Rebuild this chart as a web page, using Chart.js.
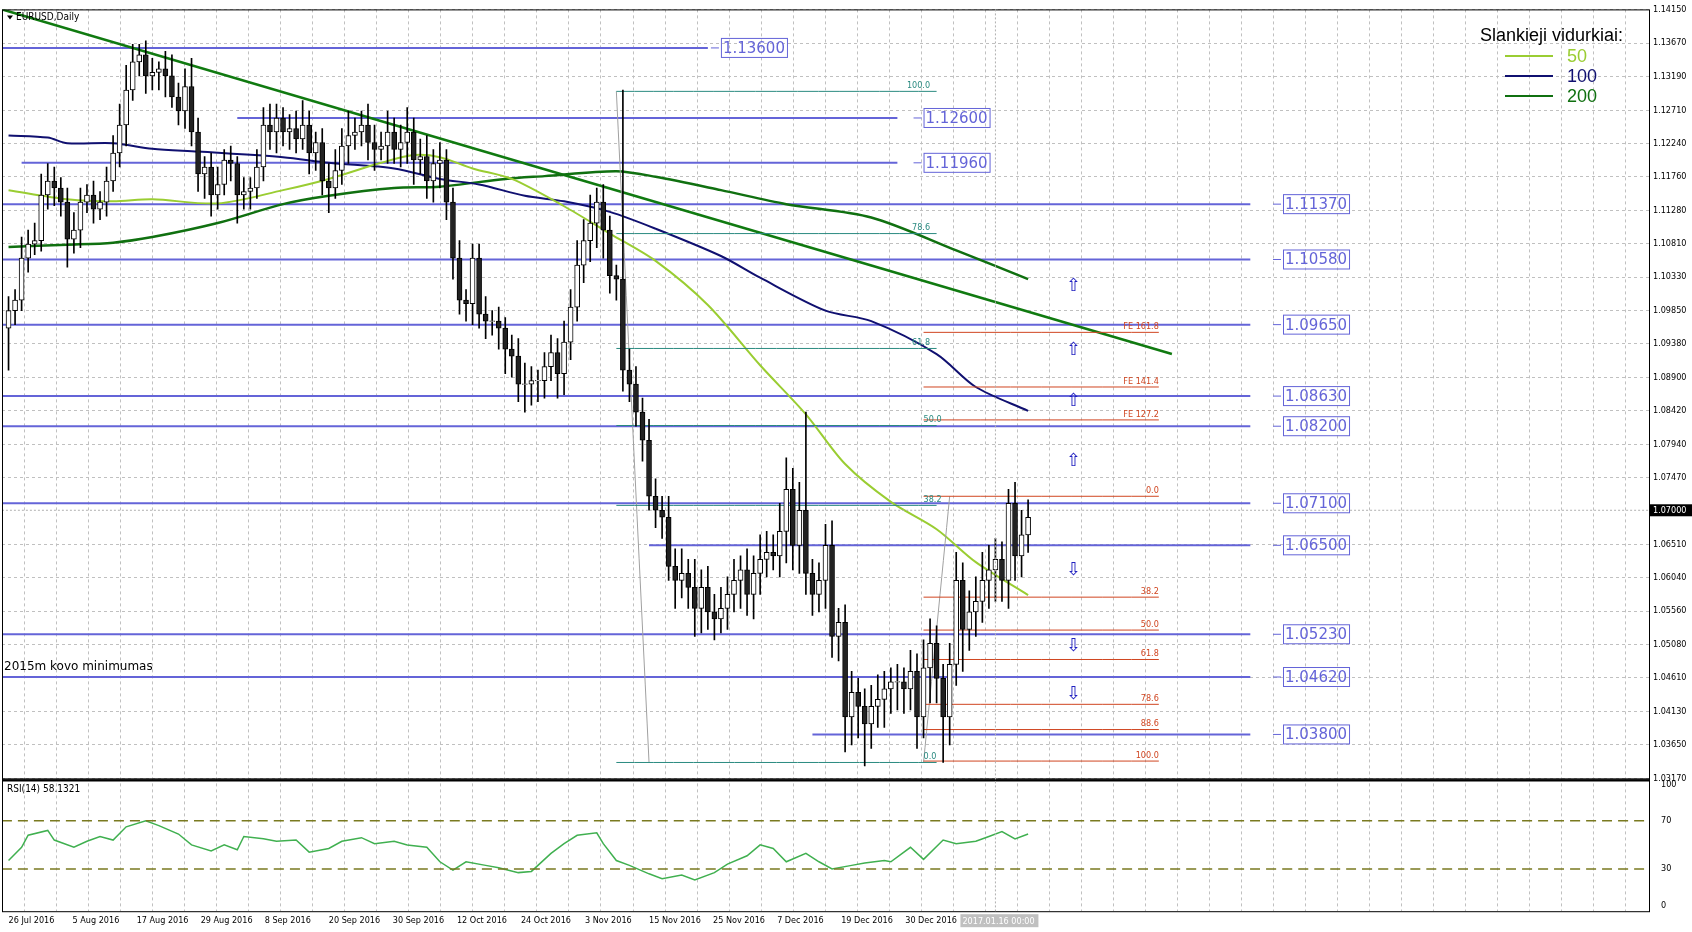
<!DOCTYPE html>
<html>
<head>
<meta charset="utf-8">
<script src="https://cdn.jsdelivr.net/npm/chart.js@4/dist/chart.umd.min.js"></script>
<style>
html,body{margin:0;padding:0;background:#fff;}
#wrap{width:1692px;height:932px;}
</style>
</head>
<body>
<div id="wrap"><canvas id="myChart" width="1692" height="932"></canvas></div>
<script>
// daily closes, 26 Jul 2016 .. 13 Jan 2017
var closes = [1.0985,1.1000,1.1060,1.1080,1.1085,
 1.1150,1.1170,1.1160,1.1140,1.1087,1.1100,1.1140,1.1150,1.1130,
 1.1140,1.1170,1.1210,1.1250,1.1300,1.1340,1.1350,1.1320,
 1.1325,1.1330,1.1320,1.1290,1.1270,1.1305,1.1240,1.1180,1.1190,1.1150,1.1165,1.1200,1.1195,
 1.1150,1.1155,1.1160,1.1190,1.1250,1.1240,1.1260,1.1240,1.1245,1.1230,1.1250,1.1210,1.1225,1.1170,1.1160,1.1185,1.1220,1.1235,1.1240,
 1.1250,1.1225,1.1215,1.1220,1.1240,1.1215,1.1225,1.1240,1.1200,1.1205,1.1170,1.1195,1.1200,
 1.1140,1.1060,1.1000,1.0995,1.1060,1.0980,1.0970,1.0970,1.0960,1.0930,1.0920,1.0880,1.0880,1.0885,
 1.0885,1.0905,1.0925,1.0895,1.0940,1.0990,1.1050,1.1085,1.1110,1.1140,1.1100,1.1035,1.1030,
 1.0900,1.0880,1.0840,1.0800,1.0720,1.0700,1.0690,1.0620,1.0600,1.0610,1.0590,1.0560,1.0590,1.0555,1.0545,1.0560,
 1.0580,1.0600,1.0615,1.0580,1.0610,1.0630,1.0640,1.0635,1.0670,1.0730,1.0650,1.0700,1.0610,
 1.0580,1.0600,1.0650,1.0520,1.0540,1.0405,1.0440,1.0420,1.0395,1.0420,1.0430,1.0445,1.0455,
 1.0455,1.0445,1.0470,1.0405,1.0475,1.0510,1.0460,1.0405,1.0480,1.0600,1.0530,1.0555,1.0570,1.0600,1.0615,1.0630,1.0600,1.0710,1.0635,1.0665,1.0690];
var firstOpen = 1.0960;
// wick lengths in pips above / below the body
var wickUp = [20,15,30,20,25, 30,25,20,15,20,25,20,15,20, 15,20,25,30,35,25,15,20,
 20,10,25,30,20,25,40,20,15,20,25,15,20, 10,20,15,25,25,30,20,15,20,25,35,20,15,20,25,30,25,35,20,
 20,30,25,20,30,20,25,35,20,25,30,20,25, 15,20,25,15,20,20,25,15,20,15,20,25,30,20,
 15,20,25,20,30,25,35,30,40,20,25,20,15, 270,30,25,20,30,25,20,30,25,35,20,40,25,30,25,30,
 25,30,20,30,25,35,30,25,40,45,30,40,140, 20,25,30,35,20,25,30,20,25,30,35,25,20,
 25,20,30,25,40,35,25,20,30,40,25,30,35,40,35,30,25,20,30,35,25];
var wickDn = [60,20,15,20,15, 15,20,25,20,40,20,25,15,20, 15,20,15,20,30,15,20,25,
 20,25,30,15,20,25,20,25,35,30,20,15,25, 40,20,25,15,20,25,30,20,25,20,15,30,25,20,35,15,20,25,20,
 20,25,30,15,25,20,25,30,35,20,25,30,35, 25,30,20,25,30,20,25,20,30,35,30,25,40,30,
 30,25,20,35,30,25,20,25,30,35,40,25,30, 30,25,20,30,20,25,30,20,40,25,30,40,35,25,30,20,
 30,25,40,30,35,30,25,20,30,45,35,40,30, 30,25,40,30,35,50,40,45,60,35,30,40,35,
 40,35,30,45,30,50,35,65,40,30,60,30,35,30,40,45,30,40,35,30,25];

// moving averages, sampled at bar indices
var ma50Idx  = [0,9,16,22,32,42,49,57,62,66,71,77,85,92,99,107,115,122,128,135,142,148,156];
var ma50Val  = [1.1157,1.1144,1.1141,1.1144,1.1138,1.1157,1.1173,1.1196,1.1207,1.1204,1.1188,1.1173,1.1134,1.1095,1.1056,1.0993,1.0907,1.0837,1.0766,1.0712,1.0673,1.0626,1.0579];
var ma100Idx = [0,6,9,16,22,29,42,49,59,66,72,79,85,92,99,109,115,125,132,142,148,156];
var ma100Val = [1.1235,1.1232,1.1224,1.1224,1.1216,1.1212,1.1204,1.1196,1.1188,1.1173,1.1165,1.1149,1.1141,1.1126,1.1102,1.1063,1.1032,1.0985,1.0970,1.0923,1.0876,1.0842];
var ma200Idx = [0,9,16,22,32,42,49,59,66,76,82,93,99,109,119,132,145,156];
var ma200Val = [1.1076,1.1079,1.1082,1.1090,1.1110,1.1137,1.1149,1.1160,1.1162,1.1173,1.1177,1.1184,1.1176,1.1157,1.1137,1.1118,1.1071,1.1030];
var trendIdx = [-1,178];
var trendVal = [1.1415,1.0923];

// support / resistance levels [price, fromBar, toBar, labelBar]
var levels = [[1.1360,-1,107,109],[1.1260,35,136,140],[1.1196,2,136,140],[1.1137,-1,190,195],
 [1.1058,-1,190,195],[1.0965,-1,190,195],[1.0863,-1,190,195],[1.0820,-1,190,195],
 [1.0710,-1,190,195],[1.0650,98,190,195],[1.0523,-1,190,195],[1.0462,-1,190,195],[1.0380,123,190,195]];
var fibNames = ['100.0','78.6','61.8','50.0','38.2','0.0'];
var fibVals  = [1.1298,1.1095,1.0931,1.0821,1.0707,1.0340];
var feNames = ['FE 161.8','FE 141.4','FE 127.2','0.0','38.2','50.0','61.8','78.6','88.6','100.0'];
var feVals  = [1.0954,1.0876,1.0829,1.0720,1.0576,1.0529,1.0487,1.0423,1.0387,1.0342];
var arrowsUp = [1.1020,1.0929,1.0856,1.0770];
var arrowsDn = [1.0614,1.0506,1.0437];
var currentPrice = 1.0700;

var priceTicks = ['1.14150','1.13670','1.13190','1.12710','1.12240','1.11760','1.11280','1.10810','1.10330',
 '1.09850','1.09380','1.08900','1.08420','1.07940','1.07470','1.06510','1.06040','1.05560','1.05080',
 '1.04610','1.04130','1.03650','1.03170'];
var dateLabels = ['26 Jul 2016','5 Aug 2016','17 Aug 2016','29 Aug 2016','8 Sep 2016','20 Sep 2016','30 Sep 2016',
 '12 Oct 2016','24 Oct 2016','3 Nov 2016','15 Nov 2016','25 Nov 2016','7 Dec 2016','19 Dec 2016','30 Dec 2016'];

var rsiIdx = [0,2,3,6,7,10,12,14,16,18,21,23,26,28,31,33,35,36,39,41,44,46,49,51,54,56,59,61,64,66,68,70,73,75,78,80,83,85,87,90,91,93,95,98,100,103,105,108,110,113,115,117,119,122,124,126,129,131,134,135,138,140,143,145,148,150,152,154,156];
var rsiVal = [37,48,58,62,54,48,53,57,54,65,70,66,59,50,45,50,46,57,55,53,54,44,47,53,56,51,53,50,48,36,29,36,33,31,27,28,43,51,58,60,51,37,33,26,22,25,21,27,34,41,50,47,36,43,36,30,33,35,37,36,48,38,54,51,53,57,61,55,59];

var LEVEL_C = '#6464d8';

var ctx = document.getElementById('myChart').getContext('2d');
var ds = [];
var wicks = [], bodies = [], bodyCol = [];
var prev = firstOpen;
for (var i = 0; i < closes.length; i++) {
  var o = prev, c = closes[i];
  var hi = Math.max(o,c) + wickUp[i]*0.0001, lo = Math.min(o,c) - wickDn[i]*0.0001;
  wicks.push({x:i, y:[lo,hi]});
  bodies.push({x:i, y: Math.abs(o-c) < 0.00005 ? [c-0.00004,c+0.00004] : [o,c]});
  bodyCol.push(c >= o ? '#ffffff' : '#222222');
  prev = c;
}
function line(xArr, yArr, color, w, axis, dash) {
  var pts = xArr.map(function(x,k){ return {x:x, y:yArr[k]}; });
  return {type:'line', data:pts, borderColor:color, borderWidth:w, pointRadius:0, yAxisID:axis||'y',
          borderDash:dash||[], tension:0.3, order:2};
}
levels.forEach(function(l){ var d=line([l[1],l[2]],[l[0],l[0]],LEVEL_C,2); d.order=5; ds.push(d); });
fibVals.forEach(function(v){ ds.push(line([93,142],[v,v],'#2a8a80',1)); });
feVals.forEach(function(v){ ds.push(line([140,176],[v,v],'#d04520',1)); });
ds.push(line([93,98],[1.1298,1.0340],'#a0a0a0',1));
ds.push(line([140,144],[1.0340,1.0720],'#a0a0a0',1));
ds.push(line([-1,252],[currentPrice,currentPrice],'#b0b0b0',1,'y',[2,2]));
ds.push(line(ma50Idx, ma50Val, '#9acd32', 2));
ds.push(line(ma100Idx, ma100Val, '#101070', 2));
ds.push(line(ma200Idx, ma200Val, '#107010', 2.5));
ds.push(line(trendIdx, trendVal, '#107a10', 2.5));
ds.push({type:'bar', data:wicks, backgroundColor:'#000', barThickness:1, yAxisID:'y', order:1, grouped:false});
ds.push({type:'bar', data:bodies, backgroundColor:bodyCol, borderColor:'#000', borderWidth:1, borderSkipped:false,
         barThickness:5, yAxisID:'y', order:0, grouped:false});
ds.push(line([-1,252],[70,70],'#7a7a20',1.5,'rsi',[10,6]));
ds.push(line([-1,252],[30,30],'#7a7a20',1.5,'rsi',[10,6]));
var rsi = line(rsiIdx, rsiVal, '#40b050', 1.5, 'rsi'); rsi.tension = 0; ds.push(rsi);

var overlay = {
  id:'overlay',
  afterDraw: function(chart){
    var c = chart.ctx, X = chart.scales.x, Y = chart.scales.y, R = chart.scales.rsi, a = chart.chartArea;
    c.save();
    // pane frame
    c.strokeStyle = '#000'; c.lineWidth = 1;
    c.strokeRect(a.left+0.5, a.top+0.5, a.right-a.left, Y.bottom-a.top);
    c.strokeRect(a.left+0.5, R.top+0.5, a.right-a.left, a.bottom-R.top);
    c.lineWidth = 2;
    c.beginPath(); c.moveTo(a.left, Y.bottom+2); c.lineTo(a.right, Y.bottom+2); c.stroke();
    c.lineWidth = 1;
    // level boxes
    c.font = '15px "DejaVu Sans"'; c.textBaseline = 'middle';
    levels.forEach(function(l){
      var txt = l[0].toFixed(5), x = X.getPixelForValue(l[3]), y = Y.getPixelForValue(l[0]);
      var w = c.measureText(txt).width + 4;
      c.strokeStyle = LEVEL_C; c.fillStyle = LEVEL_C; c.lineWidth = 1;
      c.beginPath(); c.moveTo(x-10, y); c.lineTo(x-2, y); c.stroke();
      c.strokeRect(x+0.5, y-9.5, w, 19);
      c.fillText(txt, x+2, y+1);
    });
    // fib labels
    c.font = '9px "DejaVu Sans Condensed"'; c.textBaseline = 'bottom';
    fibNames.forEach(function(n,k){
      c.fillStyle = '#2a8a80';
      var x = X.getPixelForValue(140);
      c.textAlign = 'left';
      if (k < 3) { c.textAlign = 'right'; x = X.getPixelForValue(141); }
      c.fillText(n, x, Y.getPixelForValue(fibVals[k]) - 1);
    });
    c.textAlign = 'right'; c.fillStyle = '#d04520';
    feNames.forEach(function(n,k){ c.fillText(n, X.getPixelForValue(176), Y.getPixelForValue(feVals[k]) - 1); });
    // arrows
    c.textAlign = 'center'; c.textBaseline = 'middle'; c.fillStyle = '#2020c0'; c.font = '18px "DejaVu Sans"';
    arrowsUp.forEach(function(v){ c.fillText('\u21e7', X.getPixelForValue(163), Y.getPixelForValue(v)); });
    arrowsDn.forEach(function(v){ c.fillText('\u21e9', X.getPixelForValue(163), Y.getPixelForValue(v)); });
    // crosshair
    c.strokeStyle = '#b0b0b0'; c.setLineDash([2,2]);
    var cx = X.getPixelForValue(151);
    c.beginPath(); c.moveTo(cx, a.top); c.lineTo(cx, a.bottom); c.stroke(); c.setLineDash([]);
    // current price tag
    var py = Y.getPixelForValue(currentPrice);
    c.fillStyle = '#000'; c.fillRect(a.right+1, py-6, 42, 12);
    c.fillStyle = '#fff'; c.font = '9px "DejaVu Sans Condensed"'; c.textAlign = 'left';
    c.fillText('1.07000', a.right+4, py);
    // date crosshair tag
    c.fillStyle = '#c0c0c0'; c.fillRect(cx-35, a.bottom+3, 78, 13);
    c.fillStyle = '#fff'; c.fillText('2017.01.16 00:00', cx-33, a.bottom+10);
    // texts
    c.fillStyle = '#000'; c.font = '10px "DejaVu Sans Condensed"'; c.textBaseline = 'top'; c.textAlign = 'left';
    c.beginPath(); c.moveTo(a.left+5, a.top+6); c.lineTo(a.left+11, a.top+6); c.lineTo(a.left+8, a.top+10); c.fill();
    c.fillText('EURUSD,Daily', a.left+14, a.top+3);
    c.fillText('RSI(14) 58.1321', a.left+5, R.top+6);
    c.font = '12px "DejaVu Sans"'; c.textBaseline = 'bottom';
    c.fillText('2015m kovo minimumas', a.left+2, Y.getPixelForValue(1.0462) - 4);
    // legend
    c.font = '18px "Liberation Sans"'; c.textBaseline = 'middle';
    c.fillText('Slankieji vidurkiai:', 1480, 36);
    [['50','#9acd32'],['100','#101070'],['200','#107010']].forEach(function(p,k){
      var y = 56 + k*20;
      c.strokeStyle = p[1]; c.lineWidth = 2; c.beginPath(); c.moveTo(1505, y); c.lineTo(1553, y); c.stroke();
      c.fillStyle = p[1]; c.fillText(p[0], 1567, y+1);
    });
    c.restore();
  }
};

var chart = new Chart(ctx, {
  type: 'bar',
  data: { datasets: ds },
  options: {
    responsive:false, animation:false, events:[],
    layout:{padding:{left:2, top:2, right:0, bottom:2}},
    plugins:{legend:{display:false}, tooltip:{enabled:false}},
    scales: {
      x: { type:'linear', min:-1, max:251, offset:false,
        afterBuildTicks: function(s){ var t=[]; for (var k=0;k<52;k++) t.push({value:k*4.9}); s.ticks=t; },
        ticks:{ autoSkip:false, maxRotation:0, align:'start', padding:4, color:'#000', font:{family:'DejaVu Sans Condensed', size:9},
          callback:function(v,k){ return k%2==0 && dateLabels[k/2] ? dateLabels[k/2] : ''; } },
        grid:{color:'#c0c0c0', drawTicks:false}, border:{display:false, dash:[3,3]} },
      y: { position:'right', stack:'p', stackWeight:5.8, min:1.0317, max:1.1415,
        afterBuildTicks: function(s){ s.ticks = priceTicks.map(function(t){ return {value:parseFloat(t)}; }); },
        afterFit: function(s){ s.width = 43; },
        ticks:{ autoSkip:false, color:'#000', padding:4, font:{family:'DejaVu Sans Condensed', size:9},
          callback:function(v,k){ return priceTicks[k]; } },
        grid:{color:'#c0c0c0', drawTicks:false}, border:{display:false, dash:[3,3]} },
      rsi: { type:'linear', position:'right', stack:'p', stackWeight:1, min:-5, max:105,
        afterBuildTicks: function(s){ s.ticks = [0,30,70,100].map(function(v){ return {value:v}; }); },
        afterFit: function(s){ s.width = 43; },
        ticks:{ autoSkip:false, color:'#000', padding:4, font:{family:'DejaVu Sans Condensed', size:9} },
        grid:{display:false}, border:{display:false} }
    }
  },
  plugins:[overlay]
});
</script>
</body>
</html>
